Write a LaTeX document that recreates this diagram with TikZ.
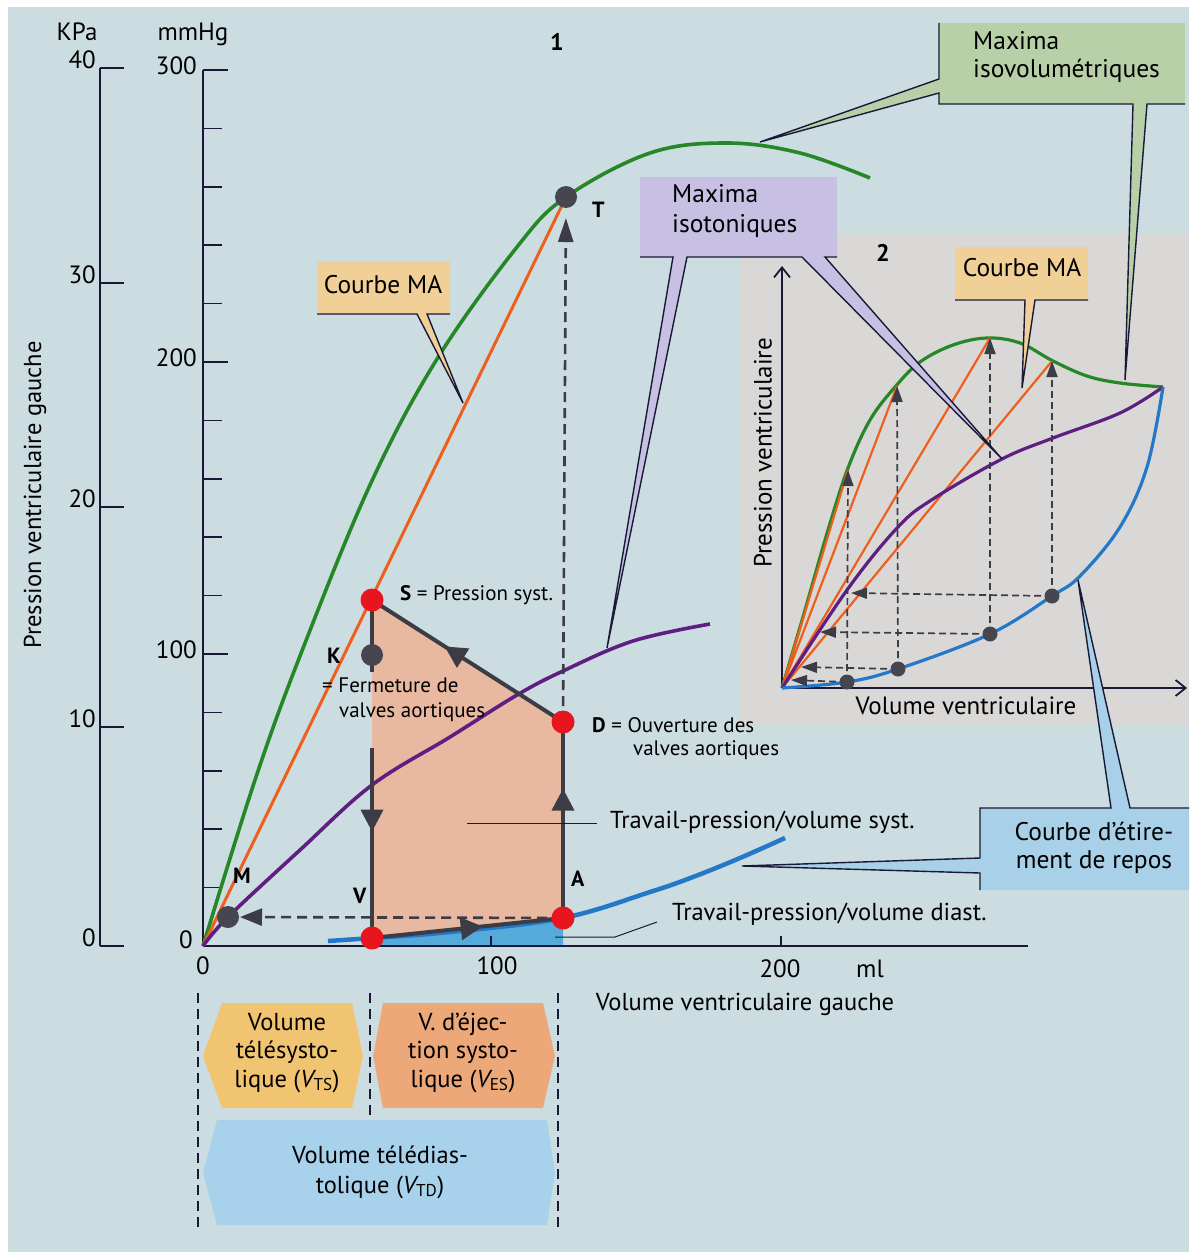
\documentclass[tikz,border=0pt]{standalone}
\usepackage{fontspec}
\setmainfont{PT Sans}
\usetikzlibrary{arrows.meta,decorations.markings}

\definecolor{fondbleu}{RGB}{204,221,225}
\definecolor{fondgris}{RGB}{218,216,214}
\definecolor{encre}{RGB}{25,25,55}
\definecolor{vert}{RGB}{38,135,40}
\definecolor{orangeMA}{RGB}{238,95,30}
\definecolor{violet}{RGB}{95,30,130}
\definecolor{bleu}{RGB}{35,120,200}
\definecolor{bleuclair}{RGB}{85,170,220}
\definecolor{saumon}{RGB}{232,184,160}
\definecolor{rouge}{RGB}{232,20,30}
\definecolor{gris}{RGB}{70,70,80}
\definecolor{boucle}{RGB}{60,60,70}
\definecolor{bulleverte}{RGB}{184,208,168}
\definecolor{bulleviolette}{RGB}{200,192,226}
\definecolor{bullejaune}{RGB}{240,208,150}
\definecolor{bullebleue}{RGB}{168,208,232}
\definecolor{boiteTS}{RGB}{240,196,112}
\definecolor{boiteES}{RGB}{236,168,120}
\definecolor{boiteTD}{RGB}{168,210,236}

\tikzset{
  txt/.style={font=\fontsize{24.5}{29}\selectfont, inner sep=0pt},
  note/.style={font=\fontsize{21}{25}\selectfont, inner sep=0pt},
  bulletxt/.style={font=\fontsize{25.5}{30}\selectfont, inner sep=0pt},
  chiffre/.style={font=\fontsize{25}{29}\selectfont, inner sep=0pt},
  lettre/.style={font=\bfseries\fontsize{22}{26}\selectfont, inner sep=0pt},
  axe/.style={encre, line width=1.6},
  rouge pt/.style={circle, fill=rouge, inner sep=0pt, minimum size=23},
  gris pt/.style={circle, fill=gris, inner sep=0pt, minimum size=22},
  petit pt/.style={circle, fill=gris, inner sep=0pt, minimum size=15},
  boucle trait/.style={boucle, line width=4},
  fleche mi/.style={postaction={decorate, decoration={markings,
      mark=at position #1 with {\arrow{Triangle[length=22pt,width=22pt]}}}}},
  tirets/.style={boucle, line width=2.6, dash pattern=on 10pt off 6pt},
  petits tirets/.style={boucle, line width=1.7, dash pattern=on 7pt off 4pt},
  bulle/.style={line width=1.4, draw=encre},
  renvoi/.style={encre, line width=1},
  separation/.style={encre, line width=2.8, dash pattern=on 10pt off 6pt},
}

\begin{document}
\begin{tikzpicture}[x=1pt, y=-1pt]
\useasboundingbox (0,0) rectangle (1189,1252);
\fill[white] (0,0) rectangle (1189,1252);
\fill[fondbleu] (8,7) rectangle (1189,1252);
\fill[fondgris] (740,233) rectangle (1189,725);

% points of the main loop
\coordinate (O) at (203,946);
\coordinate (S) at (372,600);
\coordinate (K) at (372,655);
\coordinate (D) at (563,722);
\coordinate (A) at (563,918);
\coordinate (V) at (372,938);
\coordinate (M) at (228,917);
\coordinate (T) at (566,197);

% surfaces
\fill[saumon] (S) -- (D) -- (A) -- (450,932) -- (V) -- cycle;
\fill[bleuclair] plot[smooth] coordinates {(372,938) (450,932) (563,918)} -- (563,946) -- (372,946) -- cycle;

% KPa axis
\node[chiffre, anchor=base] (kpa) at (77,41) {KPa};
\draw[axe] (100,68) -- (100,946);
\foreach \y/\v in {68/40, 283/30, 507/20, 727/10, 946/0} {
  \draw[axe] (100,\y) -- (124,\y);
  \node[chiffre, anchor=east] (kpa\v) at (96,{\y-8}) {\v};
}

% mmHg axis
\node[chiffre, anchor=base] (mmhg) at (193,41) {mmHg};
\draw[axe] (203,70) -- (O);
\foreach \p in {20,40,60,80,120,140,160,180,220,240,260,280}
  \draw[axe] (203,{946-2.92*\p}) -- (222,{946-2.92*\p});
\foreach \p in {100,200,300} {
  \draw[axe] (203,{946-2.92*\p}) -- (228,{946-2.92*\p});
  \node[chiffre, anchor=east] (mm\p) at (197,{946-2.92*\p-4}) {\p};
}
\node[chiffre, anchor=east] (mm0) at (193,940) {0};

% volume axis
\draw[axe] (O) -- (1028,946);
\draw[axe] (491,946) -- (491,936);
\draw[axe] (781,946) -- (781,936);
\node[chiffre, anchor=base] (ml0) at (203,974) {0};
\node[chiffre, anchor=base] (ml100) at (497,974) {100};
\node[chiffre, anchor=base] (ml200) at (780,977) {200};
\node[chiffre, anchor=base] (ml) at (870,977) {ml};
\node[txt, anchor=base] (titrex) at (745,1010) {Volume ventriculaire gauche};
\node[txt, rotate=90] (titrey) at (35,495) {Pression ventriculaire gauche};
\node[lettre, font=\bfseries\fontsize{24}{28}\selectfont] (un) at (557,42) {1};

% curves
\draw[vert, line width=3.6] plot[smooth, tension=0.6] coordinates {(203,946) (255,780) (300,656) (370,485) (437,359) (517,247) (566,197) (650,153) (727,143) (800,153) (870,178)};
\draw[orangeMA, line width=3] (O) -- (T);
\draw[violet, line width=3.6] plot[smooth, tension=0.6] coordinates {(203,946) (228,917) (300,850) (372,785) (450,737) (517,695) (563,671) (633,641) (710,624)};
\draw[bleu, line width=4.5] plot[smooth, tension=0.6] coordinates {(328,941) (372,938) (450,932) (563,918) (650,892) (693,877) (740,858) (785,838)};

% loop
\coordinate (K1) at (372,672);
\coordinate (K2) at (372,748);
\draw[boucle trait, fleche mi=0.58] (V) -- (A);
\draw[boucle trait, fleche mi=0.66] (A) -- (D);
\draw[boucle trait, fleche mi=0.62] (D) -- (S);
\draw[boucle trait] (S) -- (K1);
\draw[boucle trait, fleche mi=0.44] (K2) -- (V);
\draw[tirets, -{Triangle[length=22pt,width=17pt]}, shorten >=12pt] (A) -- (M);
\draw[tirets, -{Triangle[length=24pt,width=15pt]}, shorten >=21pt] (D) -- (T);

% dots
\node[rouge pt] (pS) at (S) {};
\node[gris pt] (pK) at (K) {};
\node[rouge pt] (pD) at (D) {};
\node[rouge pt] (pA) at (A) {};
\node[rouge pt] (pV) at (V) {};
\node[gris pt] (pM) at (M) {};
\node[gris pt] (pT) at (T) {};

% labels of the loop
\node[note, anchor=base west] (lS) at (400,600) {\textbf{S} = Pression syst.};
\node[lettre, anchor=base west] (lK) at (327,663) {K};
\node[note, anchor=base west] (lK1) at (322,692) {= Fermeture de};
\node[note, anchor=base west] (lK2) at (339,717) {valves aortiques};
\node[note, anchor=base west] (lD1) at (592,732) {\textbf{D} = Ouverture des};
\node[note, anchor=base west] (lD2) at (633,755) {valves aortiques};
\node[lettre, anchor=base west] (lM) at (233,883) {M};
\node[lettre, anchor=base west] (lV) at (353,903) {V};
\node[lettre, anchor=base west] (lA) at (571,886) {A};
\node[lettre, anchor=base west] (lT) at (592,218) {T};

\node[txt, anchor=base west] (tsyst) at (610,828) {Travail-pression/volume syst.};
\coordinate (psyst) at (467,823);
\draw[renvoi] (psyst) -- ([xshift=-13pt]psyst -| tsyst.west);
\node[txt, anchor=base west] (tdiast) at (672,920) {Travail-pression/volume diast.};
\coordinate (pdiast) at (555,937);
\draw[renvoi] (pdiast) -- ++(60,0) -- ++(42,-15);

% inset 2
\coordinate (O2) at (782,688);
\coordinate (haut2) at (782,266);
\coordinate (droite2) at (1187,688);
\draw[encre, line width=1.8, -{Straight Barb[length=10pt,width=16pt]}] (O2) -- (haut2);
\draw[encre, line width=1.8, -{Straight Barb[length=10pt,width=16pt]}] (O2) -- (droite2);
\node[chiffre, rotate=90] (titrey2) at (763,453) {Pression ventriculaire};
\node[chiffre, anchor=base] (titrex2) at (966,714) {Volume ventriculaire};
\node[lettre, font=\bfseries\fontsize{24}{28}\selectfont] (deux) at (883,253) {2};

\coordinate (P1) at (847,682);
\coordinate (P2) at (898,669);
\coordinate (P3) at (990,634);
\coordinate (P4) at (1052,596);
\coordinate (h1) at (848,470);
\coordinate (h2) at (897,386);
\coordinate (h3) at (990,338);
\coordinate (h4) at (1052,361);
\coordinate (g1) at (791,680);
\coordinate (g2) at (801,667);
\coordinate (g3) at (820,632);
\coordinate (g4) at (851,593);

\draw[vert, line width=3.2] plot[smooth, tension=0.6] coordinates {(782,688) (805,610) (828,530) (848,468) (870,420) (895,387) (920,362) (953,345) (987,338) (1020,343) (1053,361) (1087,376) (1120,383) (1163,387)};
\foreach \i in {1,2,3,4}
  \draw[orangeMA, line width=2.2] (O2) -- (h\i);
\draw[violet, line width=3.2] plot[smooth, tension=0.6] coordinates {(782,688) (847,590) (898,527) (933,499) (1002,459) (1053,438) (1120,413) (1163,387)};
\draw[bleu, line width=3.2] plot[smooth, tension=0.6] coordinates {(782,688) (847,682) (898,669) (990,634) (1052,596) (1080,576) (1120,527) (1147,467) (1163,387)};
\foreach \i in {1,2,3,4} {
  \draw[petits tirets, -{Triangle[length=16pt,width=11pt]}] (P\i) -- (h\i);
  \draw[petits tirets, -{Triangle[length=16pt,width=11pt]}] (P\i) -- (g\i);
  \node[petit pt] (pP\i) at (P\i) {};
}

% callouts
\fill[bulleverte] (939,23) -- (1185,23) -- (1185,104) -- (1147,104) -- (1125,380) -- (1133,104) -- (939,104) -- (939,93) -- (760,142) -- (939,79) -- cycle;
\draw[bulle] (1185,104) -- (1147,104) -- (1125,380) -- (1133,104) -- (939,104) -- (939,93) -- (760,142) -- (939,79) -- (939,23);
\node[bulletxt, anchor=base west] (iv1) at (973,50) {Maxima};
\node[bulletxt, anchor=base west] (iv2) at (973,78) {isovolumétriques};

\fill[bulleviolette] (640,177) -- (837,177) -- (837,257) -- (825,257) -- (1002,459) -- (802,257) -- (687,257) -- (607,648) -- (673,257) -- (640,257) -- cycle;
\draw[bulle] (837,257) -- (825,257) -- (1002,459) -- (802,257) -- (687,257) -- (607,648) -- (673,257) -- (640,257);
\node[bulletxt, anchor=base west] (it1) at (672,203) {Maxima};
\node[bulletxt, anchor=base west] (it2) at (672,232) {isotoniques};

\fill[bullejaune] (317,261) -- (450,261) -- (450,314) -- (427,314) -- (463,403) -- (417,314) -- (317,314) -- cycle;
\draw[bulle] (450,314) -- (427,314) -- (463,403) -- (417,314) -- (317,314);
\node[bulletxt, anchor=base] (ma1) at (383,293) {Courbe MA};

\fill[bullejaune] (955,247) -- (1088,247) -- (1088,300) -- (1035,300) -- (1022,388) -- (1025,300) -- (955,300) -- cycle;
\draw[bulle] (1088,300) -- (1035,300) -- (1022,388) -- (1025,300) -- (955,300);
\node[bulletxt, anchor=base] (ma2) at (1022,276) {Courbe MA};

\fill[bullebleue] (980,808) -- (1111,808) -- (1078,580) -- (1130,808) -- (1189,808) -- (1189,890) -- (980,890) -- (980,873) -- (742,866) -- (980,858) -- cycle;
\draw[bulle] (1189,808) -- (1130,808) -- (1078,580) -- (1111,808) -- (980,808) -- (980,858) -- (742,866) -- (980,873) -- (980,890);
\node[bulletxt, anchor=base] (er1) at (1094,840) {Courbe d’étire-};
\node[bulletxt, anchor=base] (er2) at (1094,868) {ment de repos};

% volumes
\draw[separation] (198,993) -- (198,1230);
\draw[separation] (370,993) -- (370,1117);
\draw[separation] (558,993) -- (558,1230);
\fill[boiteTS] (222,1003) -- (352,1003) -- (363,1056) -- (352,1108) -- (222,1108) -- (203,1056) -- cycle;
\fill[boiteES] (383,1003) -- (543,1003) -- (555,1056) -- (543,1108) -- (383,1108) -- (373,1056) -- cycle;
\fill[boiteTD] (217,1120) -- (547,1120) -- (555,1173) -- (547,1225) -- (217,1225) -- (203,1173) -- cycle;
\node[txt, anchor=base] (ts1) at (287,1030) {Volume};
\node[txt, anchor=base] (ts2) at (287,1058) {télésysto-};
\node[txt, anchor=base] (ts3) at (287,1087) {lique ({\itshape V}\textsubscript{TS})};
\node[txt, anchor=base] (es1) at (463,1030) {V. d’éjec-};
\node[txt, anchor=base] (es2) at (463,1058) {tion systo-};
\node[txt, anchor=base] (es3) at (463,1087) {lique ({\itshape V}\textsubscript{ES})};
\node[txt, anchor=base] (td1) at (380,1163) {Volume télédias-};
\node[txt, anchor=base] (td2) at (380,1193) {tolique ({\itshape V}\textsubscript{TD})};
\end{tikzpicture}
\end{document}
